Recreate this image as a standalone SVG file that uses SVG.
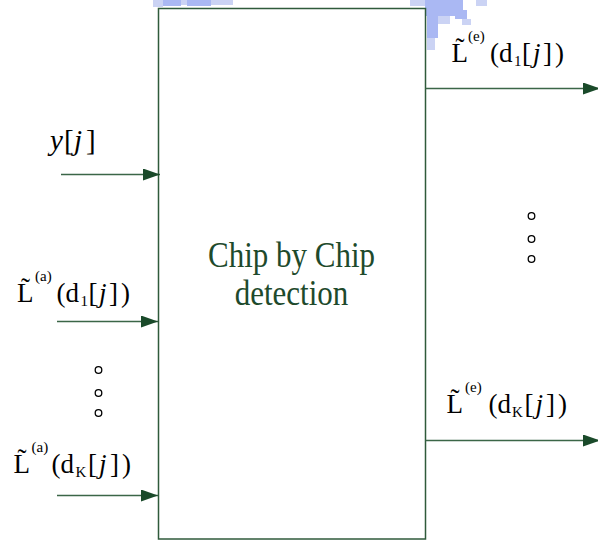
<svg xmlns="http://www.w3.org/2000/svg" width="598" height="540" viewBox="0 0 598 540">
<style>
.ln{stroke:#3b6647;stroke-width:1.4;fill:none}
.box{stroke:#2f5a3b;stroke-width:1.5;fill:#fff}
.lbl{font-family:"Liberation Serif","Times New Roman",serif;fill:#000;font-size:27px}
.sup{font-size:15px}
.it{font-style:italic}
.dot{fill:#fff;stroke:#000;stroke-width:1.3}
.ct{font-family:"Liberation Serif","Times New Roman",serif;fill:#1e4a2c;font-size:31px}
.wm{fill:#aab8f3}
.wm2{fill:#cbd3f4}
</style>
<defs>
<marker id="ah" markerUnits="userSpaceOnUse" markerWidth="18" markerHeight="13" refX="17" refY="6" orient="auto">
<path d="M0,0 L17,6 L0,12 z" fill="#1a4a2a"/>
</marker>
</defs>
<g id="watermark">
<rect class="wm2" x="153" y="0" width="10" height="7"/>
<rect class="wm" x="163" y="0" width="18" height="6"/>
<rect class="wm2" x="181" y="0" width="6" height="5"/>
<rect class="wm" x="187" y="0" width="24" height="6"/>
<rect class="wm2" x="211" y="0" width="22" height="5"/>
<rect class="wm2" x="410" y="0" width="15" height="6"/>
<rect class="wm" x="425" y="0" width="38" height="16"/>
<rect class="wm" x="427" y="16" width="11" height="22"/>
<rect class="wm2" x="427" y="38" width="8" height="12"/>
<rect class="wm2" x="438" y="16" width="12" height="8"/>
<rect class="wm" x="455" y="10" width="12" height="9"/>
<rect class="wm2" x="462" y="19" width="9" height="6"/>
<rect class="wm2" x="476" y="0" width="11" height="6"/>
</g>
<g id="block">
<rect class="box" x="158.5" y="8.5" width="267" height="530.5"/>
<text class="ct" transform="translate(291.5,266.5) scale(1,1.17)" text-anchor="middle">Chip by Chip</text>
<text class="ct" transform="translate(291.5,305) scale(1,1.17)" text-anchor="middle">detection</text>
</g>
<g id="connectors">
<line class="ln" x1="61" y1="174.5" x2="160" y2="174.5" marker-end="url(#ah)"/>
<line class="ln" x1="57" y1="321.5" x2="158" y2="321.5" marker-end="url(#ah)"/>
<line class="ln" x1="57" y1="495.5" x2="158" y2="495.5" marker-end="url(#ah)"/>
<line class="ln" x1="425.5" y1="88.5" x2="600" y2="88.5" marker-end="url(#ah)"/>
<line class="ln" x1="425.5" y1="440.5" x2="600" y2="440.5" marker-end="url(#ah)"/>
</g>
<g id="label-y">
<text class="lbl" style="font-size:29px" y="150"><tspan class="it" x="50">y</tspan><tspan x="64">[</tspan><tspan class="it" x="74">j</tspan><tspan x="86">]</tspan></text>
</g>
<g id="label-La1">
<text class="lbl" y="302"><tspan x="17" y="302">L&#x303;</tspan><tspan class="sup" x="35" y="281">(a)</tspan><tspan x="56.5" y="302">(d</tspan><tspan class="sup" x="80.5" y="306">1</tspan><tspan x="88.5" y="302">[</tspan><tspan class="it" x="99">j</tspan><tspan x="109">]</tspan><tspan x="121">)</tspan></text>
</g>
<g id="label-LaK">
<text class="lbl" y="473"><tspan x="13.5" y="473">L&#x303;</tspan><tspan class="sup" x="31.5" y="452">(a)</tspan><tspan x="51.5" y="473">(d</tspan><tspan class="sup" x="75.5" y="477">K</tspan><tspan x="88" y="473">[</tspan><tspan class="it" x="99">j</tspan><tspan x="110">]</tspan><tspan x="122">)</tspan></text>
</g>
<g id="label-Le1">
<text class="lbl" y="62"><tspan x="451.5" y="62">L&#x303;</tspan><tspan class="sup" x="468" y="41">(e)</tspan><tspan x="490" y="62">(d</tspan><tspan class="sup" x="514" y="66">1</tspan><tspan x="522" y="62">[</tspan><tspan class="it" x="533">j</tspan><tspan x="543">]</tspan><tspan x="555">)</tspan></text>
</g>
<g id="label-LeK">
<text class="lbl" y="413"><tspan x="446.5" y="413">L&#x303;</tspan><tspan class="sup" x="465" y="392">(e)</tspan><tspan x="488.5" y="413">(d</tspan><tspan class="sup" x="512" y="417">K</tspan><tspan x="524.5" y="413">[</tspan><tspan class="it" x="535.5">j</tspan><tspan x="546">]</tspan><tspan x="558">)</tspan></text>
</g>
<g id="dots-left">
<circle class="dot" cx="98.5" cy="370" r="3.3"/>
<circle class="dot" cx="98.5" cy="393" r="3.3"/>
<circle class="dot" cx="98.5" cy="413" r="3.3"/>
</g>
<g id="dots-right">
<circle class="dot" cx="531.5" cy="216" r="3.3"/>
<circle class="dot" cx="531.5" cy="239" r="3.3"/>
<circle class="dot" cx="531.5" cy="259" r="3.3"/>
</g>
</svg>
